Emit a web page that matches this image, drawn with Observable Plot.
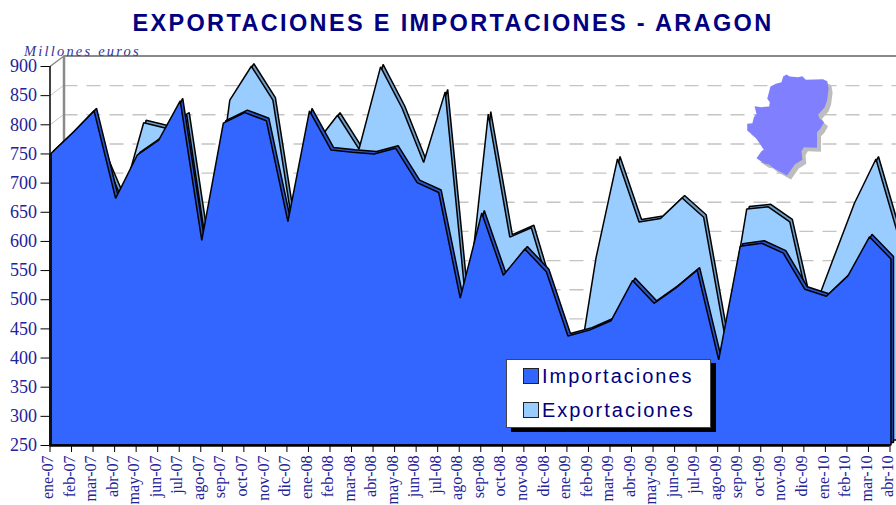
<!DOCTYPE html>
<html><head><meta charset="utf-8">
<script src="https://cdn.jsdelivr.net/npm/d3@7"></script>
<script src="https://cdn.jsdelivr.net/npm/@observablehq/plot@0.6"></script>
<style>
html,body{margin:0;padding:0;background:#fff;width:896px;height:505px;overflow:hidden}
#wrap{position:relative;width:896px;height:505px}
#title{height:42px;line-height:46px;text-align:center;font:bold 23.5px "Liberation Sans",sans-serif;letter-spacing:2.35px;color:#000080;white-space:nowrap;padding-left:10px;box-sizing:border-box;line-height:46px}
#unit{position:absolute;left:24px;top:43px;font:italic 14.5px "Liberation Serif",serif;letter-spacing:2.2px;color:#33339a}
#legend{position:absolute;left:506px;top:359px;width:203px;height:67px;background:#fff;border:1px solid #444;box-shadow:5px 4px 0 #000;font:20px "Liberation Sans",sans-serif;letter-spacing:2px;color:#000080}
.row{position:absolute;left:16px;display:flex;align-items:center;height:18px}
.sw{width:14px;height:14px;border:1.5px solid #222;margin-right:3px;box-sizing:content-box}
svg{display:block;overflow:hidden}
</style></head><body>
<div id="wrap">
<div id="title">EXPORTACIONES E IMPORTACIONES - ARAGON</div>
<div id="unit">Millones euros</div>
<div id="chart"></div>
<div id="legend">
<div class="row" style="top:7px"><span class="sw" style="background:#3366ff"></span>Importaciones</div>
<div class="row" style="top:41px"><span class="sw" style="background:#99ccff"></span>Exportaciones</div>
</div>
</div>
<script>
const months=["ene-07","feb-07","mar-07","abr-07","may-07","jun-07","jul-07","ago-07","sep-07","oct-07","nov-07","dic-07",
"ene-08","feb-08","mar-08","abr-08","may-08","jun-08","jul-08","ago-08","sep-08","oct-08","nov-08","dic-08",
"ene-09","feb-09","mar-09","abr-09","may-09","jun-09","jul-09","ago-09","sep-09","oct-09","nov-09","dic-09",
"ene-10","feb-10","mar-10","abr-10"];
const importaciones=[750,785,823,673,747,773,840,601,802,820,806,633,823,756,752,749,759,700,683,502,648,541,586,547,437,447,463,532,493,519,550,396,591,596,579,517,505,540,607,569];
const exportaciones=[720,735,749,662,794,785,807,560,833,891,833,598,759,807,749,890,819,726,847,470,809,598,614,490,330,562,732,624,630,665,632,425,646,650,624,461,559,656,732,605];
const yTicks=[250,300,350,400,450,500,550,600,650,700,750,800,850,900];
const gridValues=[300,350,400,450,500,550,600,650,700,750,800,850];
const mapIndex=[34.19,34.35,34.73,34.93,35.09,35.89,36.09,36.15,36.08,35.97,35.66,35.74,35.94,35.77,35.61,35.61,35.00,34.89,34.93,34.58,34.22,33.73,33.57,33.39,33.19,32.80,33.03,33.14,32.77,32.37,32.37,32.61,32.68,32.80,32.71,33.03,33.39,33.42,33.30,33.45,33.70,33.96,34.04];
const mapValue=[886.3,882.9,881.7,883.4,877.1,878.3,874.9,861.7,841.7,830.3,817.1,810.2,804.5,793.1,787.4,760.5,761.6,754.8,739.9,731.9,713.0,722.8,726.2,731.9,733.1,742.8,754.8,757.1,777.6,790.2,801.7,802.8,813.1,818.8,832.0,830.3,831.4,838.8,844.5,865.7,870.3,873.1,882.9];

const idx=d3.range(months.length);
const ink="#22229a";
const area=(values,o)=>Plot.areaY(idx,{x:i=>i,y1:()=>250,y2:i=>values[i],curve:"linear",stroke:"#000",strokeWidth:1.5,strokeLinejoin:"miter",...o});
const mapIdx=d3.range(mapIndex.length);
const mapShape=o=>Plot.line(mapIdx,{x:i=>mapIndex[i],y:i=>mapValue[i],stroke:"none",curve:"linear-closed",...o});

const plot=Plot.plot({
  width:896,height:463,
  marginLeft:49.5,marginRight:6.5,marginTop:24,marginBottom:60,
  x:{type:"linear",domain:[0,39],label:null},
  y:{type:"linear",domain:[250,900],label:null},
  marks:[
    Plot.ruleY(gridValues,{dx:14,dy:-10,stroke:"#c4c4c4",strokeWidth:1.4,strokeDasharray:"14 9"}),
    Plot.link(gridValues,{x1:()=>0,x2:()=>0.65,y1:d=>d,y2:d=>d+18,stroke:"#c8c8c8",strokeWidth:1}),
    Plot.ruleY([900],{dx:14,dy:-10.5,stroke:"#8a8a8a",strokeWidth:2}),
    Plot.ruleX([0.65],{y1:250,y2:918,stroke:"#8a8a8a",strokeWidth:2.5}),
    Plot.link([900],{x1:()=>0,x2:()=>0.65,y1:d=>d,y2:d=>d+18,stroke:"#8a8a8a",strokeWidth:1.5}),
    mapShape({fill:"#bdbdbd",dx:4,dy:4}),
    mapShape({fill:"#8080ff"}),
    area(exportaciones,{fill:"#6f9fc8",dx:10.5,dy:-7.5}),
    area(exportaciones,{fill:"#99ccff",dx:8,dy:-5}),
    area(importaciones,{fill:"#2a55cc",dx:4,dy:-2.5}),
    area(importaciones,{fill:"#3366ff",dx:1.5}),
    Plot.ruleX([0],{y1:250,y2:900,stroke:"#000",strokeWidth:1.5}),
    Plot.ruleX([0],{y1:250,y2:750,stroke:"#111",strokeWidth:3,dx:0.5}),
    Plot.ruleY([250],{stroke:"#000",strokeWidth:2.5}),
    Plot.axisY({ticks:yTicks,tickSize:9,tickPadding:4,fontSize:18,fontFamily:"Liberation Serif",tickFormat:d=>String(d),label:null,stroke:"#000",fill:ink}),
    Plot.axisX({ticks:idx,tickSize:7,tickFormat:()=>"",label:null,stroke:"#000"}),
    Plot.axisX({ticks:idx,tickSize:0,tickPadding:10,tickRotate:-90,fontSize:16,fontFamily:"Liberation Serif",tickFormat:i=>months[i],label:null,fill:ink,dx:-2})
  ]
});
document.getElementById("chart").appendChild(plot);
</script>
</body></html>
